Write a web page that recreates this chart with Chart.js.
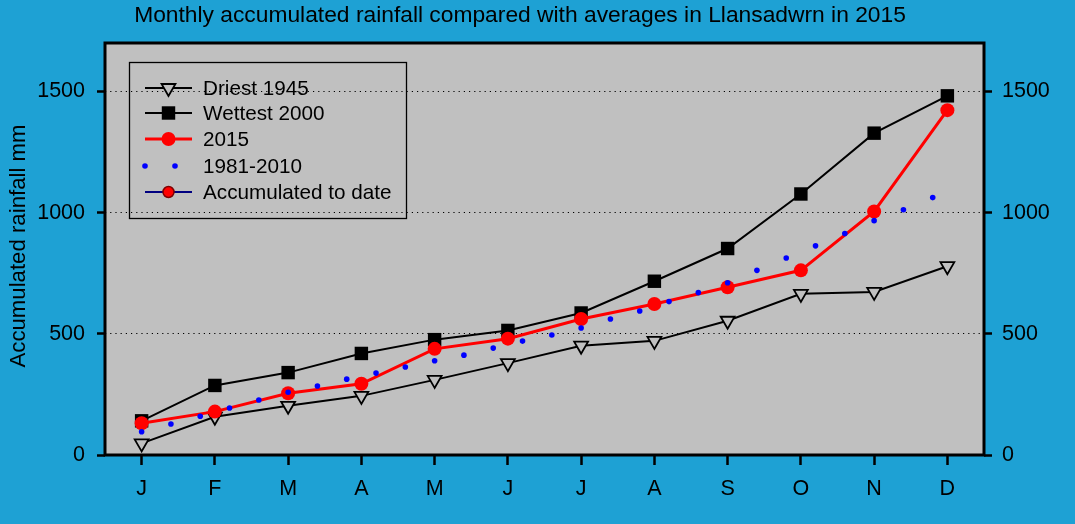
<!DOCTYPE html>
<html>
<head>
<meta charset="utf-8">
<script src="https://cdn.jsdelivr.net/npm/chart.js@4.4.1/dist/chart.umd.min.js"></script>
<style>
  html, body { margin: 0; padding: 0; background: #1ea1d4; }
  #wrap { width: 1075px; height: 524px; }
</style>
</head>
<body>
<div id="wrap"><canvas id="RainChart" width="1075" height="524"></canvas></div>
<script>
// ================= Data =================
const months = ['J', 'F', 'M', 'A', 'M', 'J', 'J', 'A', 'S', 'O', 'N', 'D'];
const monthPos = [1, 2, 3, 4, 5, 6, 7, 8, 9, 10, 11, 12];
const driest1945 = [48, 158, 203, 244, 310, 379, 451, 471, 554, 665, 673, 779];
const wettest2000 = [141, 287, 340, 419, 476, 514, 586, 717, 852, 1077, 1328, 1482];
const rain2015 = [131, 179, 255, 294, 438, 480, 561, 623, 692, 762, 1005, 1423];
// 1981-2010 average is plotted as separate dots
const avgPos = [1, 1.4, 1.8, 2.2, 2.6, 3, 3.4, 3.8, 4.2, 4.6, 5, 5.4, 5.8, 6.2,
  6.6, 7, 7.4, 7.8, 8.2, 8.6, 9, 9.4, 9.8, 10.2, 10.6, 11, 11.4, 11.8];
const avg19812010 = [96, 128, 160, 194, 227, 259, 285, 313, 338, 363, 389, 412, 441, 470,
  495, 524, 561, 594, 633, 670, 711, 762, 813, 863, 914, 967, 1012, 1062];
const yTicks = [0, 500, 1000, 1500];

const titleText = 'Monthly accumulated rainfall compared with averages in Llansadwrn in 2015';
const yTitle = 'Accumulated rainfall mm';

const FONT = '"Liberation Sans", Arial, sans-serif';
const PLOT_BG = '#c0c0c0';

const toXY = (xs, ys) => ys.map((v, i) => ({ x: xs[i], y: v }));

// ================= Plugins =================
const framePlugin = {
  id: 'frame',
  beforeDraw(chart) {
    const { ctx, chartArea: a } = chart;
    ctx.save();
    ctx.fillStyle = PLOT_BG;
    ctx.fillRect(a.left, a.top, a.right - a.left, a.bottom - a.top);
    ctx.restore();
  },
  afterDraw(chart) {
    const { ctx, chartArea: a } = chart;
    ctx.save();
    ctx.strokeStyle = '#000';
    ctx.lineWidth = 3;
    ctx.strokeRect(a.left, a.top, a.right - a.left, a.bottom - a.top);

    // title + y axis title
    ctx.fillStyle = '#000';
    ctx.font = '22.8px ' + FONT;
    ctx.textAlign = 'center';
    ctx.textBaseline = 'middle';
    ctx.fillText(titleText, 520, 16);

    ctx.font = '22.2px ' + FONT;
    ctx.translate(19, 246);
    ctx.rotate(-Math.PI / 2);
    ctx.fillText(yTitle, 0, 0);
    ctx.restore();
  }
};

const legendPlugin = {
  id: 'boxLegend',
  afterDraw(chart) {
    const ctx = chart.ctx;
    const box = { x: 129.5, y: 62.5, w: 277, h: 156 };
    const rows = [
      { label: 'Driest 1945', y: 88, line: '#000', lw: 1.8,
        pt: { pointStyle: 'triangle', rotation: 180, radius: 8, borderWidth: 1.8 }, fill: PLOT_BG, stroke: '#000' },
      { label: 'Wettest 2000', y: 113, line: '#000', lw: 1.8,
        pt: { pointStyle: 'rect', rotation: 0, radius: 9.5, borderWidth: 0 }, fill: '#000', stroke: '#000' },
      { label: '2015', y: 139, line: '#ff0000', lw: 3,
        pt: { pointStyle: 'circle', rotation: 0, radius: 7, borderWidth: 0 }, fill: '#ff0000', stroke: '#ff0000' },
      { label: '1981-2010', y: 166, dots: true },
      { label: 'Accumulated to date', y: 192, line: '#000080', lw: 2,
        pt: { pointStyle: 'circle', rotation: 0, radius: 5.5, borderWidth: 1.5 }, fill: '#ff0000', stroke: '#800000' }
    ];
    ctx.save();
    ctx.strokeStyle = '#000';
    ctx.lineWidth = 1.3;
    ctx.strokeRect(box.x, box.y, box.w, box.h);
    rows.forEach(r => {
      if (r.dots) {
        ctx.fillStyle = '#0000ff';
        [145, 175].forEach(x => {
          Chart.helpers.drawPoint(ctx, { pointStyle: 'circle', radius: 2.8, borderWidth: 0 }, x, r.y);
        });
      } else {
        ctx.strokeStyle = r.line;
        ctx.lineWidth = r.lw;
        ctx.beginPath();
        ctx.moveTo(145, r.y);
        ctx.lineTo(192, r.y);
        ctx.stroke();
        ctx.fillStyle = r.fill;
        ctx.strokeStyle = r.stroke;
        ctx.lineWidth = r.pt.borderWidth;
        Chart.helpers.drawPoint(ctx, r.pt, 168.5, r.y);
      }
      ctx.fillStyle = '#000';
      ctx.font = '20.7px ' + FONT;
      ctx.textAlign = 'left';
      ctx.textBaseline = 'middle';
      ctx.fillText(r.label, 203, r.y + 1);
    });
    ctx.restore();
  }
};

// ================= Chart =================
const ctx = document.getElementById('RainChart').getContext('2d');

const tickFont = { family: FONT, size: 21.5 };

new Chart(ctx, {
  type: 'line',
  data: {
    datasets: [
      {
        label: '1981-2010',
        data: toXY(avgPos, avg19812010),
        showLine: false,
        pointStyle: 'circle',
        pointRadius: 2.8,
        pointBorderWidth: 0,
        pointBackgroundColor: '#0000ff',
        order: 0
      },
      {
        label: '2015',
        data: toXY(monthPos, rain2015),
        borderColor: '#ff0000',
        borderWidth: 3,
        pointStyle: 'circle',
        pointRadius: 7,
        pointBorderWidth: 0,
        pointBackgroundColor: '#ff0000',
        order: 1
      },
      {
        label: 'Wettest 2000',
        data: toXY(monthPos, wettest2000),
        borderColor: '#000',
        borderWidth: 2,
        pointStyle: 'rect',
        pointRadius: 9.5,
        pointBorderWidth: 0,
        pointBackgroundColor: '#000',
        order: 2
      },
      {
        label: 'Driest 1945',
        data: toXY(monthPos, driest1945),
        borderColor: '#000',
        borderWidth: 2,
        pointStyle: 'triangle',
        pointRotation: 180,
        pointRadius: 8,
        pointBorderWidth: 1.8,
        pointBorderColor: '#000',
        pointBackgroundColor: PLOT_BG,
        order: 3
      },
      {
        label: 'Accumulated to date',
        data: [],
        borderColor: '#000080',
        pointBackgroundColor: '#ff0000',
        pointBorderColor: '#800000',
        order: 4
      }
    ]
  },
  options: {
    responsive: false,
    animation: false,
    events: [],
    layout: { padding: { top: 43, left: 0, right: 0, bottom: 0 } },
    plugins: {
      legend: { display: false },
      title: { display: false },
      tooltip: { enabled: false }
    },
    scales: {
      x: {
        type: 'linear',
        min: 0.5,
        max: 12.5,
        afterBuildTicks: s => { s.ticks = monthPos.map(v => ({ value: v })); },
        afterFit: s => { s.height = 69; },
        border: { display: false },
        grid: {
          drawOnChartArea: false,
          drawTicks: true,
          tickLength: 10,
          tickWidth: 2.5,
          tickColor: '#000'
        },
        ticks: {
          color: '#000',
          font: tickFont,
          padding: 11,
          maxRotation: 0,
          autoSkip: false,
          callback: v => months[monthPos.indexOf(v)] || ''
        }
      },
      y: {
        position: 'left',
        min: 0,
        max: 1700,
        afterBuildTicks: s => { s.ticks = yTicks.map(v => ({ value: v })); },
        afterFit: s => { s.width = 105; },
        border: { display: false, dash: [1.2, 4] },
        grid: {
          drawOnChartArea: true,
          color: '#000',
          lineWidth: 1,
          tickLength: 8,
          tickWidth: 2.5,
          tickColor: '#000',
          tickBorderDash: []
        },
        ticks: { color: '#000', font: tickFont, padding: 12, callback: v => String(v) }
      },
      y2: {
        position: 'right',
        min: 0,
        max: 1700,
        afterBuildTicks: s => { s.ticks = yTicks.map(v => ({ value: v })); },
        afterFit: s => { s.width = 91; },
        border: { display: false },
        grid: {
          drawOnChartArea: false,
          tickLength: 8,
          tickWidth: 2.5,
          tickColor: '#000'
        },
        ticks: { color: '#000', font: tickFont, padding: 10, callback: v => String(v) }
      }
    }
  },
  plugins: [framePlugin, legendPlugin]
});
</script>
</body>
</html>
